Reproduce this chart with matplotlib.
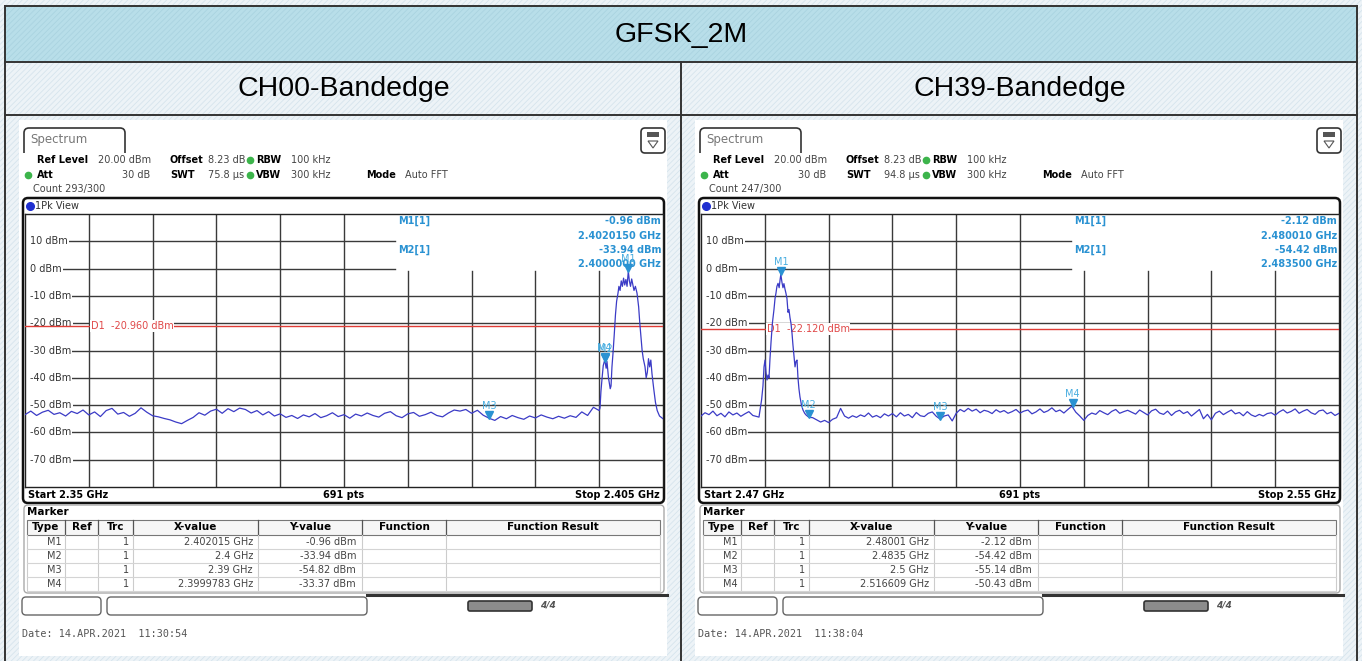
import numpy as np
import matplotlib.pyplot as plt
from matplotlib.patches import Rectangle, FancyBboxPatch, Polygon
from matplotlib.transforms import offset_copy

plt.rcParams['hatch.linewidth'] = 0.6

W, H = 1362, 661

title = "GFSK_2M"
channels = ["CH00-Bandedge", "CH39-Bandedge"]
marker_names = ["M1", "M2", "M3", "M4"]

# ---- CH00 ----
ch00_span = (2.35, 2.405)
ch00_noise_f = np.linspace(2.35, 2.3995, 100)
ch00_noise_db = [
    -53.5, -52.2, -53.8, -52.6, -51.9, -53.4, -52.8, -54.0, -52.3, -53.1,
    -51.8, -53.6, -52.5, -54.2, -52.0, -51.2, -53.3, -52.7, -54.1, -53.0,
    -51.0, -52.6, -53.9, -54.3, -54.9, -55.4, -56.2, -56.8, -55.6, -54.5,
    -52.8, -53.7, -52.2, -51.5, -53.0, -51.3, -52.4, -51.1, -51.6, -52.9,
    -52.0, -53.6, -52.4, -54.0, -53.2, -54.5, -53.8, -54.9, -53.6, -54.3,
    -53.1, -54.6, -53.9, -52.8, -54.2, -53.5, -54.8, -53.3, -54.0, -52.9,
    -53.8, -54.4, -53.0, -52.4, -53.9, -54.6, -53.2, -52.7, -54.1, -53.5,
    -52.6, -53.8, -54.3, -52.9, -51.8, -52.2, -51.6, -53.0, -51.9, -53.7,
    -54.8, -55.6, -54.2, -55.0, -53.8, -54.6, -55.2, -54.0, -54.7, -53.6,
    -54.4, -55.0, -54.1, -54.8, -53.9, -54.5, -52.5, -53.8, -50.8, -52.0,
]
ch00_sig_f = [
    2.39957, 2.39965, 2.39975, 2.39985, 2.39998, 2.40000, 2.40010, 2.40017,
    2.40030, 2.40045, 2.40052, 2.40060, 2.40069, 2.40080, 2.40090, 2.40100,
    2.40112, 2.40120, 2.40130, 2.40140, 2.40150, 2.40160, 2.40170, 2.40180,
    2.40190, 2.40201, 2.40210, 2.40220, 2.40230, 2.40240, 2.40250, 2.40262,
    2.40276, 2.40290, 2.40300, 2.40310, 2.40320, 2.40330, 2.40345, 2.40355,
    2.40365, 2.40375, 2.40385, 2.40395, 2.40405, 2.40420, 2.40435, 2.40450,
    2.40470, 2.40500,
]
ch00_sig_db = [
    -51.0, -45.0, -40.0, -35.5, -33.4, -33.9, -36.5, -34.0,
    -40.0, -44.0, -43.0, -36.0, -31.0, -24.0, -17.0, -12.0,
    -9.0, -6.5, -8.0, -4.5, -6.5, -3.5, -6.0, -4.0,
    -6.5, -0.96, -4.5, -6.5, -3.8, -6.0, -8.0, -6.5,
    -9.0, -14.0, -20.0, -25.0, -30.0, -33.0, -36.0, -40.0,
    -38.0, -33.0, -36.0, -33.5, -38.5, -44.0, -49.0, -52.0,
    -54.0, -55.0,
]
ch00_d1 = -20.96
ch00_mark_f = [2.402015, 2.4, 2.39, 2.3999783]
ch00_mark_db = [-0.96, -33.94, -54.82, -33.37]
ch00_mark_x = ["2.402015 GHz", "2.4 GHz", "2.39 GHz", "2.3999783 GHz"]
ch00_readout = ["-0.96 dBm", "2.4020150 GHz", "-33.94 dBm", "2.4000000 GHz"]
ch00_count = "Count 293/300"
ch00_swt = "75.8 µs"
ch00_start, ch00_stop = "Start 2.35 GHz", "Stop 2.405 GHz"
ch00_date = "Date: 14.APR.2021  11:30:54"

# ---- CH39 ----
ch39_span = (2.47, 2.55)
ch39_noise_a_f = np.linspace(2.47, 2.477, 15)
ch39_noise_a_db = [
    -54.0, -52.8, -53.5, -52.2, -53.9, -53.0, -54.3, -52.5, -53.6, -52.9,
    -54.1, -53.2, -52.4, -53.8, -54.2,
]
ch39_sig_f = [
    2.47727, 2.47760, 2.47777, 2.47790, 2.47803, 2.47815, 2.47828, 2.47840,
    2.47853, 2.47865, 2.47878, 2.47895, 2.47915, 2.47928, 2.47940, 2.47952,
    2.47966, 2.47980, 2.47992, 2.48001, 2.48015, 2.48028, 2.48040, 2.48053,
    2.48065, 2.48078, 2.48091, 2.48103, 2.48116, 2.48128, 2.48141, 2.48153,
    2.48166, 2.48179, 2.48191, 2.48204, 2.48216, 2.48228, 2.48241, 2.48260,
    2.48279, 2.48300, 2.48317, 2.48350,
]
ch39_sig_db = [
    -54.4, -48.0, -43.0, -36.0, -33.5, -38.0, -40.8, -39.0,
    -40.0, -33.0, -27.0, -20.0, -15.0, -11.0, -9.0, -6.5,
    -5.4, -7.0, -4.0, -2.12, -5.0, -7.0, -5.5, -7.5,
    -9.0, -11.0, -16.0, -15.0, -18.0, -20.0, -23.6, -28.0,
    -32.0, -36.0, -34.0, -33.5, -40.0, -44.0, -47.0, -50.0,
    -51.8, -53.0, -53.6, -54.42,
]
ch39_noise_b_f = np.linspace(2.484, 2.55, 133)
ch39_noise_b_db = [
    -54.6, -55.4, -56.2, -55.6, -56.4, -55.2, -54.6, -51.2, -54.0, -54.8,
    -53.9, -54.5, -53.6, -54.2, -52.9, -54.4, -53.8, -54.6, -53.2, -54.0,
    -53.1, -54.3, -52.8, -54.0, -53.4, -54.6, -52.7, -53.9, -54.2, -53.0,
    -52.5, -54.1, -55.14, -54.0, -53.6, -55.8, -53.0, -51.6, -52.4, -51.2,
    -52.2, -51.5, -52.8, -51.9, -52.3, -53.1, -51.7, -52.6, -52.0, -53.0,
    -52.4, -51.6, -52.9, -52.2, -51.8, -53.2, -52.5, -51.4, -52.7, -52.1,
    -51.0, -52.4, -51.8, -52.9, -51.6, -50.4, -52.6, -54.0, -55.6, -53.8,
    -52.9, -53.4, -52.0, -52.8, -53.5, -52.3, -51.6, -53.0, -52.4, -51.9,
    -52.6, -53.3, -51.8, -52.7, -53.6, -52.1, -51.5, -52.9, -53.4, -52.2,
    -53.8, -52.5, -51.9, -53.1, -52.4, -54.0, -52.8, -51.6, -55.0, -53.4,
    -55.4, -53.0, -52.2, -53.5, -52.6, -51.8, -53.2, -52.7, -53.9, -52.4,
    -53.6, -54.2, -53.4, -54.0, -53.1, -52.8, -53.7, -52.5, -51.7, -52.9,
    -52.3, -51.4, -53.0, -52.2, -51.6, -52.8, -53.4, -52.1, -51.8, -53.2,
    -52.6, -53.8, -53.0,
]
ch39_d1 = -22.12
ch39_mark_f = [2.48001, 2.4835, 2.5, 2.516609]
ch39_mark_db = [-2.12, -54.42, -55.14, -50.43]
ch39_mark_x = ["2.48001 GHz", "2.4835 GHz", "2.5 GHz", "2.516609 GHz"]
ch39_readout = ["-2.12 dBm", "2.480010 GHz", "-54.42 dBm", "2.483500 GHz"]
ch39_count = "Count 247/300"
ch39_swt = "94.8 µs"
ch39_start, ch39_stop = "Start 2.47 GHz", "Stop 2.55 GHz"
ch39_date = "Date: 14.APR.2021  11:38:04"

TRACE = '#3b3bc6'
MARK = '#2a92d2'
GRID = '#3a3a3a'
SF = 'DejaVu Sans'

fig = plt.figure(figsize=(W / 100, H / 100), dpi=100)
bg = fig.add_axes([0, 0, 1, 1])
bg.set_xlim(0, W)
bg.set_ylim(H, 0)
bg.axis('off')

# table background and borders
bg.add_patch(Rectangle((0, 0), W, H, facecolor='#edf3f7', edgecolor='#d6e4ed',
                       hatch='//////', lw=0))
bg.add_patch(Rectangle((5, 6), 1352, 56, facecolor='#b8dee9', edgecolor='#aad3e0',
                       hatch='//////', lw=0))
for y in (6, 62, 115):
    bg.plot([5, 1357], [y, y], color='#333333', lw=1.4)
for x in (5, 1357):
    bg.plot([x, x], [6, H], color='#333333', lw=1.4)
bg.plot([681, 681], [62, H], color='#333333', lw=1.4)
bg.text(681, 35, title, ha='center', va='center', fontsize=20.5, family='Liberation Sans')
bg.text(344, 89, channels[0], ha='center', va='center', fontsize=20.5, family='Liberation Sans')
bg.text(1020, 89, channels[1], ha='center', va='center', fontsize=20.5, family='Liberation Sans')


def txt(x, y, s, **kw):
    kw.setdefault('fontsize', 7)
    kw.setdefault('family', SF)
    kw.setdefault('va', 'center')
    bg.text(x, y, s, **kw)


def screen(ox, count, swt, start_lbl, stop_lbl, mark_x, mark_db, date):
    bg.add_patch(Rectangle((ox + 19, 120), 648, 536, facecolor='white', lw=0))
    # tab and icon
    bg.add_patch(FancyBboxPatch((ox + 24, 128), 101, 32, boxstyle='round,pad=0,rounding_size=5',
                                facecolor='white', edgecolor='#333333', lw=1.2))
    bg.add_patch(Rectangle((ox + 23, 153), 104, 8, facecolor='white', lw=0))
    txt(ox + 30, 140, "Spectrum", fontsize=8.5, color='#777777')
    bg.add_patch(FancyBboxPatch((ox + 641, 128), 24, 25, boxstyle='round,pad=0,rounding_size=4',
                                facecolor='white', edgecolor='#333333', lw=1.2))
    bg.add_patch(Rectangle((ox + 647, 132), 12, 5, facecolor='#555555', lw=0))
    bg.add_patch(Polygon([[ox + 648, 141], [ox + 658, 141], [ox + 653, 148]], closed=True,
                         facecolor='white', edgecolor='#555555', lw=0.8))
    # settings
    txt(ox + 37, 160, "Ref Level", weight='bold')
    txt(ox + 98, 160, "20.00 dBm", color='#444444')
    txt(ox + 170, 160, "Offset", weight='bold')
    txt(ox + 208, 160, "8.23 dB", color='#444444')
    txt(ox + 256, 160, "RBW", weight='bold')
    txt(ox + 291, 160, "100 kHz", color='#444444')
    txt(ox + 37, 175, "Att", weight='bold')
    txt(ox + 150, 175, "30 dB", ha='right', color='#444444')
    txt(ox + 170, 175, "SWT", weight='bold')
    txt(ox + 208, 175, swt, color='#444444')
    txt(ox + 256, 175, "VBW", weight='bold')
    txt(ox + 291, 175, "300 kHz", color='#444444')
    txt(ox + 366, 175, "Mode", weight='bold')
    txt(ox + 405, 175, "Auto FFT", color='#444444')
    txt(ox + 33, 189, count, color='#444444')
    bg.plot([ox + 250, ox + 28, ox + 250], [160, 175, 175], ls='none', marker='o', ms=4.5,
            color='#3cb44b')
    # plot frame
    bg.add_patch(FancyBboxPatch((ox + 23, 198), 641, 305, boxstyle='round,pad=0,rounding_size=5',
                                facecolor='white', edgecolor='#111111', lw=1.8))
    bg.plot([ox + 30], [206], marker='o', ms=5.5, color='#1f2fd0')
    txt(ox + 35, 206, "1Pk View", color='#333333')
    txt(ox + 28, 495, start_lbl, weight='bold')
    txt(ox + 344, 495, "691 pts", weight='bold', ha='center')
    txt(ox + 660, 495, stop_lbl, weight='bold', ha='right')
    # marker table
    bg.add_patch(FancyBboxPatch((ox + 24, 505), 640, 88, boxstyle='round,pad=0,rounding_size=4',
                                facecolor='white', edgecolor='#aaaaaa', lw=1))
    txt(ox + 27, 512, "Marker", weight='bold', fontsize=7.5)
    cols = [27, 65, 98, 133, 258, 362, 446, 660]
    bg.add_patch(Rectangle((ox + 27, 520), 633, 15, facecolor='#f6f6f6', edgecolor='#777777', lw=0.8))
    heads = ["Type", "Ref", "Trc", "X-value", "Y-value", "Function", "Function Result"]
    for i, hd in enumerate(heads):
        txt(ox + (cols[i] + cols[i + 1]) / 2, 527.5, hd, weight='bold', fontsize=7.5, ha='center')
    for c in cols[1:-1]:
        bg.plot([ox + c, ox + c], [520, 535], color='#555555', lw=0.9)
        bg.plot([ox + c, ox + c], [535, 591], color='#cccccc', lw=0.8)
    bg.plot([ox + 27, ox + 27], [535, 591], color='#cccccc', lw=0.8)
    bg.plot([ox + 660, ox + 660], [535, 591], color='#cccccc', lw=0.8)
    for r in range(4):
        y = 542 + 14 * r
        bg.plot([ox + 27, ox + 660], [y + 7, y + 7], color='#d4d4d4', lw=0.8)
        txt(ox + 62, y, marker_names[r], ha='right', color='#444444')
        txt(ox + 129, y, "1", ha='right', color='#444444')
        txt(ox + 253, y, mark_x[r], ha='right', color='#444444')
        txt(ox + 356, y, f"{mark_db[r]:.2f} dBm", ha='right', color='#444444')
    # status bar
    bg.plot([ox + 367, ox + 667], [595, 595], color='#333333', lw=2.2)
    bg.add_patch(FancyBboxPatch((ox + 22, 597), 79, 18, boxstyle='round,pad=0,rounding_size=4',
                                facecolor='white', edgecolor='#666666', lw=1))
    bg.add_patch(FancyBboxPatch((ox + 107, 597), 260, 18, boxstyle='round,pad=0,rounding_size=4',
                                facecolor='white', edgecolor='#666666', lw=1))
    bg.add_patch(FancyBboxPatch((ox + 468, 601), 64, 10, boxstyle='round,pad=0,rounding_size=2',
                                facecolor='#8c8c8c', edgecolor='#333333', lw=1.2))
    txt(ox + 540, 605, "4/4", color='#555555', weight='bold', style='italic', fontsize=6.5)
    txt(ox + 22, 634, date, family='DejaVu Sans Mono', fontsize=7.3, color='#555555')


def spectrum(ox, span, f, db, d1, mf, mdb, readout):
    ax = fig.add_axes([(ox + 25) / W, 1 - 487 / H, 638 / W, 273 / H])
    f0, f1 = span
    ax.set_xlim(f0, f1)
    ax.set_ylim(-80, 20)
    ax.set_xticks([])
    ax.set_yticks([])
    for s in ax.spines.values():
        s.set_color('#222222')
        s.set_linewidth(1)
    step = (f1 - f0) / 10
    for k in range(1, 10):
        ax.axvline(f0 + k * step, ymax=0.79 if k >= 6 else 1, color=GRID, lw=1, zorder=1)
    yt = ax.get_yaxis_transform()
    for lev in range(10, -80, -10):
        ax.axhline(lev, xmin=0.008, xmax=0.58 if lev >= 0 else 1, color=GRID, lw=1, zorder=1)
        ax.text(0.008, lev, f"{lev} dBm", transform=yt, fontsize=7, family=SF, va='center',
                color='#333333', zorder=2,
                bbox=dict(facecolor='white', edgecolor='none', pad=0.8))
    ax.axhline(d1, color='#e03c36', lw=1, zorder=3)
    ax.text(f0 + step * 1.03, d1, f"D1  {d1:.3f} dBm", fontsize=7, family=SF, va='center',
            color='#e04848', zorder=3, bbox=dict(facecolor='white', edgecolor='none', pad=0.5))
    # marker readout
    for i, (name, yv) in enumerate(zip(["M1[1]", "M2[1]"], [17.4, 6.8])):
        ax.text(0.585, yv, name, transform=yt, fontsize=7, family=SF, va='center',
                color=MARK, weight='bold', zorder=4)
    for s, yv in zip(readout, [17.4, 11.9, 6.8, 1.7]):
        ax.text(0.997, yv, s, transform=yt, fontsize=7, family=SF, va='center', ha='right',
                color=MARK, weight='bold', zorder=4)
    ax.plot(f, db, color=TRACE, lw=0.9, zorder=6)
    tri = offset_copy(ax.transData, fig=fig, y=3, units='dots')
    lab = offset_copy(ax.transData, fig=fig, y=12, units='dots')
    for name, x, y in zip(marker_names, mf, mdb):
        ax.plot([x], [y], marker='v', ms=5.5, color=MARK, transform=tri, zorder=7)
        ax.text(x, y, name, transform=lab, fontsize=7, family=SF, ha='center', va='center',
                color='#4aaee0', zorder=7)
    return ax


screen(0, ch00_count, ch00_swt, ch00_start, ch00_stop, ch00_mark_x, ch00_mark_db, ch00_date)
screen(676, ch39_count, ch39_swt, ch39_start, ch39_stop, ch39_mark_x, ch39_mark_db, ch39_date)

spectrum(0, ch00_span,
         np.concatenate([ch00_noise_f, ch00_sig_f]),
         np.concatenate([ch00_noise_db, ch00_sig_db]),
         ch00_d1, ch00_mark_f, ch00_mark_db, ch00_readout)
spectrum(676, ch39_span,
         np.concatenate([ch39_noise_a_f, ch39_sig_f, ch39_noise_b_f]),
         np.concatenate([ch39_noise_a_db, ch39_sig_db, ch39_noise_b_db]),
         ch39_d1, ch39_mark_f, ch39_mark_db, ch39_readout)

fig.savefig('out.png', dpi=100)
